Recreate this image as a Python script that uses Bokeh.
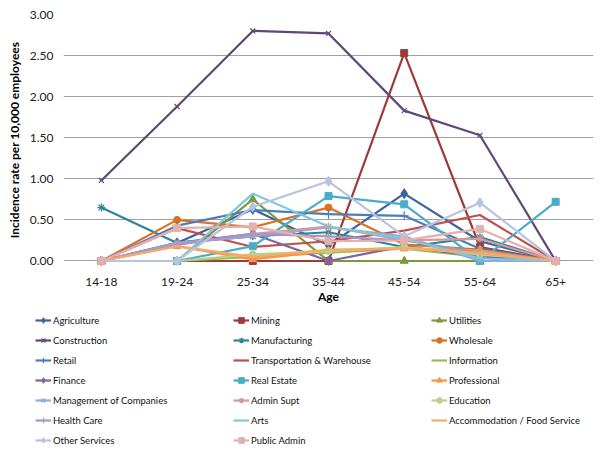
from bokeh.plotting import figure
from bokeh.models import FactorRange, Range1d, FixedTicker, NumeralTickFormatter, Legend, LegendItem
from bokeh.embed import file_html
from bokeh.resources import INLINE

ages = ["14-18", "19-24", "25-34", "35-44", "45-54", "55-64", "65+"]
y_ticks = [0.0, 0.5, 1.0, 1.5, 2.0, 2.5, 3.0]

agriculture    = [0.00, 0.22, 0.63, 0.19, 0.82, 0.24, 0.00]
mining         = [0.00, 0.00, 0.00, 0.00, 2.53, 0.17, 0.00]
utilities      = [0.00, 0.00, 0.75, 0.00, 0.00, 0.00, 0.00]
construction   = [0.98, 1.88, 2.80, 2.77, 1.83, 1.53, 0.00]
manufacturing  = [0.65, 0.22, 0.30, 0.35, 0.17, 0.29, 0.00]
wholesale      = [0.00, 0.50, 0.41, 0.65, 0.20, 0.14, 0.00]
retail         = [0.00, 0.43, 0.62, 0.57, 0.55, 0.15, 0.00]
transportation = [0.00, 0.40, 0.17, 0.24, 0.37, 0.56, 0.00]
information    = [0.00, 0.00, 0.05, 0.10, 0.15, 0.05, 0.00]
finance        = [0.00, 0.22, 0.33, 0.00, 0.18, 0.05, 0.00]
real_estate    = [0.00, 0.00, 0.18, 0.79, 0.69, 0.00, 0.72]
professional   = [0.00, 0.18, 0.02, 0.12, 0.15, 0.13, 0.00]
management     = [0.00, 0.22, 0.30, 0.41, 0.30, 0.00, 0.00]
admin_supt     = [0.00, 0.20, 0.33, 0.42, 0.25, 0.27, 0.00]
education      = [0.00, 0.00, 0.08, 0.12, 0.17, 0.08, 0.00]
health_care    = [0.00, 0.20, 0.33, 0.30, 0.25, 0.10, 0.00]
arts           = [0.00, 0.00, 0.82, 0.42, 0.27, 0.03, 0.00]
accommodation  = [0.00, 0.18, 0.05, 0.14, 0.15, 0.10, 0.00]
other_services = [0.00, 0.00, 0.66, 0.97, 0.30, 0.71, 0.00]
public_admin   = [0.00, 0.40, 0.42, 0.24, 0.25, 0.39, 0.00]

names = ["Agriculture", "Mining", "Utilities", "Construction", "Manufacturing", "Wholesale",
         "Retail", "Transportation & Warehouse", "Information", "Finance", "Real Estate",
         "Professional", "Management of Companies", "Admin Supt", "Education", "Health Care",
         "Arts", "Accommodation / Food Service", "Other Services", "Public Admin"]
values = [agriculture, mining, utilities, construction, manufacturing, wholesale,
          retail, transportation, information, finance, real_estate, professional,
          management, admin_supt, education, health_care, arts, accommodation,
          other_services, public_admin]
colors = ["#3A64A0", "#9E3B38", "#7A9A3C", "#5E4878", "#2E8597", "#DF7020",
          "#4A7EBB", "#C0504D", "#9BBB59", "#8064A2", "#4BACC6", "#F79646",
          "#8FAADC", "#D99694", "#B8D08A", "#A796C6", "#7FC8DC", "#F8A868",
          "#B6C4E2", "#E3B0AE"]
markers = ["diamond", "square", "triangle", "x", "asterisk", "circle",
           "cross", None, None, "diamond", "square", "triangle",
           "x", "asterisk", "circle", "cross", None, None,
           "diamond", "square"]
msize = {"diamond": 10, "square": 7, "triangle": 8, "x": 7, "asterisk": 8, "circle": 7, "cross": 9}

FONT = "Lato"
W = 600


def draw_series(fig, vals, col, mk):
    rs = [fig.line(ages, vals, line_color=col, line_width=2.2)]
    if mk is not None:
        lw = 1.2 if mk in ("x", "asterisk", "cross") else 1
        rs.append(fig.scatter(ages, vals, marker=mk, size=msize[mk], fill_color=col,
                              line_color=col, line_width=lw))
    return rs


# ---------------- main chart ----------------
p = figure(x_range=FactorRange(*ages), y_range=Range1d(-0.055, 3.0),
           width=W, height=308, output_backend="svg", toolbar_location=None,
           min_border_left=63, min_border_right=7, min_border_top=14, min_border_bottom=43)
p.outline_line_color = None

for vals, col, mk in zip(values, colors, markers):
    draw_series(p, vals, col, mk)

ticker = FixedTicker(ticks=y_ticks)
p.yaxis.ticker = ticker
p.yaxis.formatter = NumeralTickFormatter(format="0.00")
p.ygrid.ticker = ticker
p.ygrid.grid_line_color = "#A0A0A0"
p.ygrid.grid_line_width = 1
p.xgrid.grid_line_color = None

for ax in (p.xaxis[0], p.yaxis[0]):
    ax.axis_line_color = None
    ax.major_tick_line_color = None
    ax.minor_tick_line_color = None
    ax.major_tick_out = 0
    ax.major_tick_in = 0
    ax.major_label_text_font = FONT
    ax.major_label_text_font_size = "12px"
    ax.major_label_text_color = "#202020"
    ax.axis_label_text_font = FONT
    ax.axis_label_text_font_size = "12px"
    ax.axis_label_text_font_style = "bold"
    ax.axis_label_text_color = "#000000"

p.yaxis.axis_label = "Incidence rate per 10,000 employees"
p.yaxis.major_label_standoff = 10
p.yaxis.axis_label_standoff = 5
p.xaxis.axis_label = "Age"
p.xaxis.major_label_standoff = 12
p.xaxis.axis_label_standoff = 0

# ---------------- legend panel (separate root, so its frame is not aligned to the chart) ----------------
# the same series are drawn here far outside the visible range, so only the legend shows
lf = figure(x_range=FactorRange(*ages), y_range=Range1d(10, 11),
            width=W, height=145, output_backend="svg", toolbar_location=None,
            x_axis_type=None, y_axis_type=None,
            min_border_left=0, min_border_right=0, min_border_top=0, min_border_bottom=0)
lf.outline_line_color = None
lf.xgrid.grid_line_color = None
lf.ygrid.grid_line_color = None

items = []
for name, vals, col, mk in zip(names, values, colors, markers):
    items.append(LegendItem(label=name, renderers=draw_series(lf, vals, col, mk)))

# legend fills column by column; reorder so rows read across like the reference
ordered = [items[i] for c in range(3) for i in range(c, len(items), 3)]

legend = Legend(items=ordered, nrows=7, ncols=3, orientation="vertical", location=(35, 6),
                label_text_font=FONT, label_text_font_size="9.5px", label_text_color="#111111",
                glyph_width=16, glyph_height=14, label_height=14, label_width=174,
                label_standoff=2, spacing=6, padding=0, margin=0,
                border_line_color=None, background_fill_alpha=0)
lf.add_layout(legend, "center")

open("out.html", "w").write(file_html([p, lf], INLINE))
